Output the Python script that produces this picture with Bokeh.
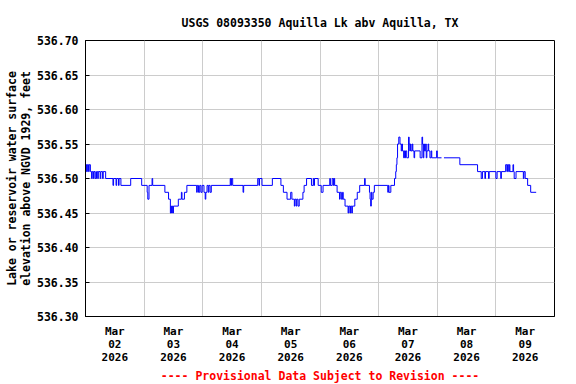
from bokeh.plotting import figure
from bokeh.models import FixedTicker, Title, NumeralTickFormatter, Range1d
from bokeh.embed import file_html
from bokeh.resources import INLINE

TITLE = "USGS 08093350 Aquilla Lk abv Aquilla, TX"
Y_LABEL = "Lake or reservoir water surface\nelevation above NGVD 1929, feet"
FOOTNOTE = "---- Provisional Data Subject to Revision ----"

# x axis: days since 2026-03-02 00:00; labels sit at noon of each day
day_label_pos = [0.5, 1.5, 2.5, 3.5, 4.5, 5.5, 6.5, 7.5]
day_labels = ["Mar\n02\n2026", "Mar\n03\n2026", "Mar\n04\n2026", "Mar\n05\n2026",
              "Mar\n06\n2026", "Mar\n07\n2026", "Mar\n08\n2026", "Mar\n09\n2026"]
day_grid = [1, 2, 3, 4, 5, 6, 7]
y_ticks = [536.30, 536.35, 536.40, 536.45, 536.50, 536.55, 536.60, 536.65, 536.70]

# change points of the gage record (hours since Mar 02 00:00, elevation ft)
seg1_hours = [0.0, 0.25, 0.5, 0.75, 1.25, 1.5, 2.0, 2.5, 2.75, 3.25, 3.5, 4.0, 4.5, 5.0,
              5.25, 6.0, 6.25, 7.0, 7.25, 8.25, 11.25, 11.5, 12.5, 12.75, 13.5, 13.75,
              14.5, 18.5, 23.0, 25.25, 25.5, 26.0, 27.25, 27.5, 32.5, 34.0, 34.75, 35.0,
              35.25, 35.5, 35.75, 36.0, 38.0, 39.25, 39.5, 40.5, 41.5, 45.5, 45.75, 46.25,
              46.75, 47.25, 47.75, 48.5, 49.0, 49.25, 49.75, 50.25, 50.5, 51.0, 51.5,
              59.25, 59.5, 59.75, 60.25, 64.5, 64.75, 70.5, 71.0, 71.25, 72.25, 76.5,
              80.0, 81.0, 82.5, 84.0, 84.5, 85.5, 85.75, 86.25, 86.5, 87.0, 87.5, 89.0,
              89.5, 90.5, 92.5, 93.25, 93.5, 93.75, 95.25, 96.5, 97.25, 100.0, 100.25,
              101.0, 101.5, 101.75, 102.0, 103.0, 104.0, 104.25, 104.75, 105.25, 105.5,
              106.25, 107.5, 107.75, 108.25, 108.5, 109.0, 109.25, 110.25, 111.25,
              112.25, 114.25, 114.5, 116.25, 116.5, 116.75, 117.0, 117.25, 117.75,
              118.25, 123.75, 124.0, 124.25, 125.0, 126.5, 127.0, 127.25, 127.5, 127.75,
              128.25, 128.75, 129.25, 129.5, 129.75, 130.25, 130.5, 130.75, 131.0,
              131.5, 132.25, 132.5, 132.75, 133.0, 133.25, 133.75, 134.0, 134.5, 134.75,
              137.0, 137.75, 138.0, 138.25, 138.5, 138.75, 139.25, 139.5, 139.75, 140.25,
              140.5, 141.0, 141.5, 141.75, 143.75, 144.0, 145.75]
seg1_elev = [536.51, 536.52, 536.51, 536.52, 536.51, 536.52, 536.51, 536.50, 536.51, 536.50,
             536.51, 536.50, 536.51, 536.50, 536.51, 536.50, 536.51, 536.50, 536.51, 536.50,
             536.49, 536.50, 536.49, 536.50, 536.49, 536.50, 536.49, 536.50, 536.49, 536.48,
             536.47, 536.49, 536.50, 536.49, 536.48, 536.47, 536.45, 536.46, 536.45, 536.46,
             536.45, 536.46, 536.47, 536.48, 536.47, 536.48, 536.49, 536.48, 536.49, 536.48,
             536.49, 536.48, 536.49, 536.48, 536.47, 536.48, 536.49, 536.48, 536.49, 536.48,
             536.49, 536.50, 536.49, 536.50, 536.49, 536.48, 536.49, 536.50, 536.49, 536.50,
             536.49, 536.50, 536.49, 536.48, 536.47, 536.48, 536.47, 536.46, 536.47, 536.46,
             536.47, 536.46, 536.47, 536.48, 536.49, 536.50, 536.49, 536.50, 536.49, 536.50,
             536.49, 536.48, 536.49, 536.50, 536.49, 536.50, 536.49, 536.50, 536.49, 536.48,
             536.47, 536.48, 536.47, 536.48, 536.47, 536.46, 536.45, 536.46, 536.45, 536.46,
             536.45, 536.46, 536.47, 536.48, 536.49, 536.50, 536.49, 536.48, 536.47, 536.46,
             536.48, 536.47, 536.48, 536.49, 536.48, 536.49, 536.48, 536.49, 536.50, 536.51,
             536.52, 536.53, 536.55, 536.56, 536.55, 536.54, 536.55, 536.54, 536.53, 536.54,
             536.53, 536.54, 536.53, 536.56, 536.55, 536.54, 536.55, 536.54, 536.55, 536.54,
             536.53, 536.54, 536.53, 536.56, 536.55, 536.53, 536.55, 536.54, 536.55, 536.53,
             536.54, 536.55, 536.54, 536.53, 536.54, 536.53, 536.54, 536.53, 536.53]
seg2_hours = [146.75, 153.25, 160.5, 162.0, 162.5, 163.5, 163.75, 165.0, 165.25, 168.0,
              168.5, 170.0, 170.25, 172.0, 172.5, 172.75, 173.25, 173.5, 173.75, 175.0,
              175.25, 175.5, 176.25, 179.25, 179.5, 180.0, 181.0, 182.25, 184.5]
seg2_elev = [536.53, 536.52, 536.51, 536.50, 536.51, 536.50, 536.51, 536.50, 536.51, 536.50,
             536.51, 536.50, 536.51, 536.52, 536.51, 536.52, 536.51, 536.52, 536.51, 536.52,
             536.51, 536.50, 536.51, 536.50, 536.51, 536.50, 536.49, 536.48, 536.48]

FONT = "DejaVu Sans Mono"

p = figure(width=576, height=384, output_backend="svg", toolbar_location=None,
           x_range=Range1d(0, 8), y_range=Range1d(536.30, 536.70),
           min_border_left=85, min_border_right=22, min_border_top=40, min_border_bottom=68)
p.background_fill_color = "white"
p.border_fill_color = "white"
p.outline_line_color = "black"
p.outline_line_width = 1

p.title.text = TITLE
p.title.align = "center"
p.title.text_font = FONT
p.title.text_font_size = "11.5px"
p.title.text_font_style = "bold"
p.title.text_color = "black"
p.title.standoff = 22

for segh, sege in ((seg1_hours, seg1_elev), (seg2_hours, seg2_elev)):
    p.step([h / 24.0 for h in segh], sege, mode="after", line_color="#0000ff", line_width=1)

# x axis
p.xaxis.ticker = FixedTicker(ticks=day_label_pos)
p.xaxis.major_label_overrides = {pos: lab for pos, lab in zip(day_label_pos, day_labels)}
p.xaxis.major_tick_line_color = None
p.xaxis.major_tick_in = 0
p.xaxis.major_tick_out = 0
p.xaxis.minor_tick_line_color = None
p.xaxis.minor_tick_in = 0
p.xaxis.minor_tick_out = 0
p.xaxis.major_label_text_font = FONT
p.xaxis.major_label_text_font_size = "11px"
p.xaxis.major_label_text_font_style = "bold"
p.xaxis.major_label_text_color = "black"
p.xaxis.major_label_text_line_height = 1.0
p.xaxis.major_label_standoff = 8
p.xaxis.axis_line_color = "black"
p.xgrid.ticker = FixedTicker(ticks=day_grid)
p.xgrid.grid_line_color = "#cccccc"

# y axis
p.yaxis.ticker = FixedTicker(ticks=y_ticks)
p.yaxis.formatter = NumeralTickFormatter(format="0.00")
p.yaxis.major_tick_in = 4
p.yaxis.major_tick_out = 0
p.yaxis.minor_tick_line_color = None
p.yaxis.minor_tick_out = 0
p.yaxis.major_label_text_font = FONT
p.yaxis.major_label_text_font_size = "11.5px"
p.yaxis.major_label_text_font_style = "bold"
p.yaxis.major_label_text_color = "black"
p.yaxis.major_label_standoff = 7
p.yaxis.axis_label = Y_LABEL
p.yaxis.axis_label_text_font = FONT
p.yaxis.axis_label_text_font_size = "11.5px"
p.yaxis.axis_label_text_font_style = "bold"
p.yaxis.axis_label_text_color = "black"
p.yaxis.axis_label_text_line_height = 1.0
p.yaxis.axis_label_standoff = 1
p.yaxis.axis_line_color = "black"
p.ygrid.grid_line_color = "#cccccc"

p.add_layout(Title(text=FOOTNOTE, align="center", text_color="red", text_font=FONT,
                   text_font_size="11.5px", text_font_style="bold", standoff=1), "below")

open("out.html", "w").write(file_html(p, INLINE))
